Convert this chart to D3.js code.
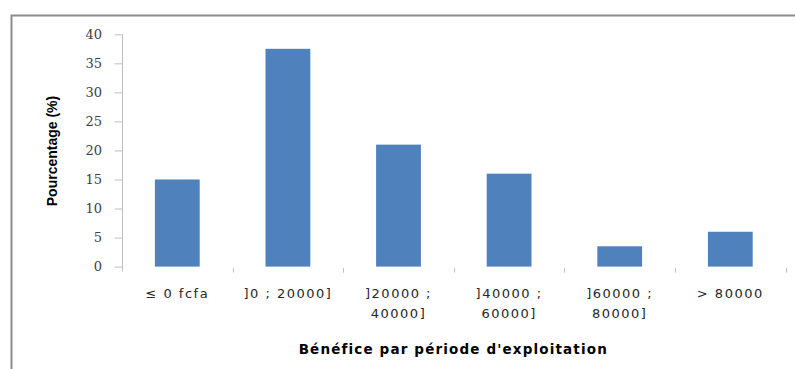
<!DOCTYPE html>
<html>
<head>
<meta charset="utf-8">
<script src="https://cdn.jsdelivr.net/npm/d3@7"></script>
<style>
  html, body { margin: 0; padding: 0; background: #fff; }
  svg { display: block; }
</style>
</head>
<body>
<svg id="chart" width="795" height="369"></svg>
<script>
// Share of farms by profit bracket per operating period
const categories = [
  ["≤ 0 fcfa"],
  ["]0 ; 20000]"],
  ["]20000 ;", "40000]"],
  ["]40000 ;", "60000]"],
  ["]60000 ;", "80000]"],
  ["> 80000"]
];
const values = [15, 37.5, 21, 16, 3.5, 6];
const yTicks = [0, 5, 10, 15, 20, 25, 30, 35, 40];
const yTitle = "Pourcentage (%)";
const xTitle = "Bénéfice par période d'exploitation";

const svg = d3.select("#chart");

// outer chart frame (only top and left edges fall inside the view)
svg.append("path")
  .attr("d", "M11.5,369 V15.5 H795")
  .attr("fill", "none")
  .attr("stroke", "#8c8c8c")
  .attr("stroke-width", 2);

const plot = { left: 122, right: 785.6, top: 34.3, bottom: 266.6 };

const x = d3.scaleBand()
  .domain(d3.range(categories.length))
  .range([plot.left, plot.right])
  .padding(0);

const y = d3.scaleLinear()
  .domain([0, 40])
  .range([plot.bottom, plot.top]);

// bars
const barW = x.bandwidth() * 0.405;
svg.append("g")
  .selectAll("rect")
  .data(values)
  .join("rect")
  .attr("x", (d, i) => x(i) + x.bandwidth() / 2 - barW / 2)
  .attr("y", d => y(d))
  .attr("width", barW)
  .attr("height", d => y(0) - y(d))
  .attr("fill", "#4f81bd");

// y axis
const yAxis = d3.axisLeft(y)
  .tickValues(yTicks)
  .tickSize(8)
  .tickPadding(12)
  .tickFormat(d3.format("d"));

const gy = svg.append("g")
  .attr("transform", `translate(${plot.left},0)`)
  .call(yAxis);
gy.select(".domain")
  .attr("d", `M0.5,${plot.top} V${plot.bottom + 5}`)
  .attr("stroke", "#bfbfbf");
gy.selectAll(".tick line").attr("stroke", "#bfbfbf").attr("transform", "translate(0.5,0)");
gy.selectAll(".tick text")
  .attr("fill", "#404040")
  .style("font-family", "'DejaVu Serif', serif")
  .style("font-size", "13px");

// x axis tick marks at category boundaries
const xAxis = d3.axisBottom(x)
  .tickValues([])
  .tickSize(0);
const gx = svg.append("g")
  .attr("transform", `translate(0,${plot.bottom})`)
  .call(xAxis);
gx.select(".domain").remove();
const bounds = d3.range(categories.length + 1).map(i => plot.left + i * x.step());
gx.selectAll("line.bound")
  .data(bounds.slice(1))
  .join("line")
  .attr("class", "bound")
  .attr("x1", d => Math.round(d) + 0.5)
  .attr("x2", d => Math.round(d) + 0.5)
  .attr("y1", 1.5)
  .attr("y2", 6)
  .attr("stroke", "#bfbfbf");

// category labels
const labels = svg.append("g")
  .style("font-family", "'DejaVu Sans', sans-serif")
  .style("font-size", "13px")
  .attr("fill", "#262626");
categories.forEach((lines, i) => {
  const t = labels.append("text")
    .attr("text-anchor", "middle")
    .attr("letter-spacing", "1.5px")
    .attr("x", x(i) + x.bandwidth() / 2)
    .attr("y", 298);
  lines.forEach((ln, k) => {
    t.append("tspan")
      .attr("x", x(i) + x.bandwidth() / 2)
      .attr("dy", k === 0 ? 0 : 19.5)
      .text(ln);
  });
});

// axis titles
svg.append("text")
  .attr("x", (plot.left + plot.right) / 2 - 0.5)
  .attr("y", 354)
  .attr("text-anchor", "middle")
  .style("font-family", "'DejaVu Sans', sans-serif")
  .style("font-weight", "bold")
  .style("font-size", "13.5px")
  .attr("letter-spacing", "1.15px")
  .attr("fill", "#000")
  .text(xTitle);

svg.append("text")
  .attr("transform", `translate(57,151) rotate(-90)`)
  .attr("text-anchor", "middle")
  .style("font-family", "'Liberation Sans Narrow', 'Liberation Sans', sans-serif")
  .style("font-weight", "bold")
  .style("font-size", "14px")
  .attr("fill", "#000")
  .text(yTitle);
</script>
</body>
</html>
